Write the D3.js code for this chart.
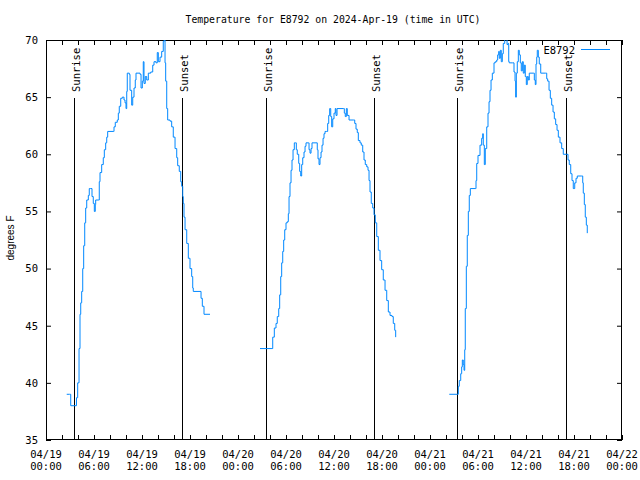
<!DOCTYPE html>
<html><head><meta charset="utf-8">
<script src="https://cdn.jsdelivr.net/npm/d3@7"></script>
<style>body{margin:0;background:#fff} svg{display:block}</style>
</head><body><svg id="c" width="640" height="480"></svg>
<script>
const title = "Temperature for E8792 on 2024-Apr-19 (time in UTC)";
const seriesName = "E8792";
const yLabel = "degrees F";
// hours since 2024-04-19 00:00 UTC
const day1Hours = [2.59,2.94,3.09,3.75,3.81,3.96,4.13,4.25,4.34,4.46,4.59,4.71,4.84,4.96,5.09,5.29,5.41,5.59,5.75,5.91,6.04,6.16,6.21,6.59,6.66,6.75,6.96,7.16,7.29,7.46,7.59,7.71,8.41,8.5,8.66,8.91,9.04,9.16,9.34,9.54,9.75,9.88,10.0,10.09,10.16,10.41,10.5,10.71,10.84,11.0,11.16,11.25,11.75,11.88,12.04,12.16,12.25,12.41,12.59,12.79,13.09,13.34,13.5,13.75,13.91,14.04,14.25,14.46,14.66,14.79,14.88,14.96,15.09,15.21,15.5,15.71,15.91,16.13,16.34,16.46,16.66,16.84,16.96,17.09,17.16,17.25,17.38,17.59,17.79,18.0,18.21,18.34,18.41,19.25,19.38,19.54,19.75,20.5];
const day1Temps = [39,39,38,38,38.7,40,43,46,47,48,50,52,54,55.3,56,56.4,57,57,56.3,55.7,55,55.6,56,56,57.6,58.4,59.1,59.7,60.4,61,61.5,62,62,62.4,62.8,63,63.6,64.2,64.9,65,64.75,64.5,64,65.5,67.1,67,65.6,64.3,65,65.8,66.5,67.1,67,65.8,66.4,68.1,66.2,66.8,66.5,67.1,67.2,67.8,68.1,68,68.9,68.1,68.5,69,69.9,70.4,68,66.4,64,63,62.9,62.4,61.5,60.5,59.7,59,58.5,57.6,57.2,56.3,55.7,54.5,53.4,52.2,50.9,50,49.3,48.3,48,48,47.4,46.7,46,46];
const day2Hours = [26.75,28.13,28.34,28.54,28.75,28.91,29.09,29.21,29.34,29.46,29.59,29.71,29.84,30.0,30.16,30.29,30.38,30.5,30.63,30.75,30.88,31.04,31.16,31.29,31.41,31.59,31.71,31.84,31.96,32.09,32.25,32.38,32.5,32.79,32.88,33.0,33.13,33.25,33.75,33.91,34.0,34.13,34.25,34.38,34.5,34.63,34.75,34.88,35.09,35.21,35.34,35.46,35.59,35.71,35.84,36.0,36.16,36.25,36.38,37.16,37.29,37.41,37.54,37.66,37.88,38.41,38.59,38.75,38.91,39.04,39.25,39.41,39.59,39.75,39.91,40.09,40.25,40.38,40.5,40.66,40.84,41.0,41.16,41.34,41.54,41.75,41.96,42.16,42.38,42.59,42.79,43.0,43.25,43.41,43.59,43.71];
const day2Temps = [43,43,44,44.8,45.2,45.8,46.5,47.7,49.3,50.5,51.5,52.5,53.4,54,54.1,54.8,56.3,57.5,58.6,59.5,60.4,61,61,60.4,60,59.2,58.5,58.1,59.1,59.7,60.2,60.7,61,61,60.4,60.1,60.5,61,61,60.4,59.6,59.1,59.7,60.2,60.8,61.4,61.8,62,62,62.7,63.4,64,63.3,62.4,63.1,63.6,64,63.4,64,64,63.6,63.3,64,63.4,63,63,62.7,62.2,61.9,61.2,61,60.8,60.2,59.5,59.1,58.9,58.6,57.7,56.7,55.7,55.3,54.7,54,52.8,51.6,50.7,49.9,49,48.1,47.2,46.2,45.9,45.8,45.2,44.6,44];
const day3Hours = [50.41,51.41,51.54,51.66,51.84,51.96,52.04,52.16,52.25,52.34,52.41,52.54,52.66,52.79,52.91,53.04,53.66,53.75,53.84,54.0,54.25,54.46,54.59,54.66,54.79,54.91,55.09,55.25,55.38,55.5,55.63,55.79,56.0,56.16,56.34,56.46,56.59,56.66,56.79,56.91,57.04,57.16,57.34,57.5,57.63,57.75,57.84,57.91,58.34,58.5,58.63,58.71,58.79,58.91,59.04,59.16,59.29,59.41,59.54,59.66,59.79,59.91,60.04,60.16,60.29,60.41,60.91,61.04,61.16,61.25,61.34,61.41,61.54,61.66,61.84,62.41,62.59,62.71,62.88,63.04,63.21,63.38,63.54,63.71,63.88,64.04,64.25,64.46,64.66,65.09,65.25,65.41,65.59,65.75,65.91,66.09,66.25,66.41,66.96,67.09,67.16,67.29,67.41,67.54,67.66];
const day3Temps = [39,39,39.7,40.2,40.8,41.4,42,41.6,41.1,42.9,46.5,50.2,52.9,55,56.4,57,57,57.7,59.2,59.9,60.8,61.4,61.8,60.8,59.1,60.5,62.4,63.6,64.6,65.6,66.5,67.1,68,68.1,68.25,68.7,69,68.4,69.1,68.1,68.8,69.7,70.3,70.3,69.6,69.7,68.1,68,68,67.2,66.4,65,67.1,68.1,69.1,68.7,68,67.3,68.1,67.1,67.8,66.8,66.1,66.8,66.5,67.1,67.1,66.5,66.1,67.9,68.5,69.1,68.5,67.9,67.1,67.1,66.6,66.4,65.6,64.9,64.3,63.7,63.1,62.6,62.1,61.5,61,60.5,60,60,59.5,59.1,58.3,57.7,57,57.5,57.9,58.1,58.1,57.5,56.6,55.6,54.5,53.8,53.1];
const sunriseHours = [3.54, 27.5, 51.41];
const sunsetHours = [17.06, 41.04, 65.04];
const yTicks = [35,40,45,50,55,60,65,70];
const yDomain = [35, 70];

const t0 = Date.UTC(2024,3,19);
const toDate = h => new Date(t0 + h*3600e3);
const L=46, R=622, T=40, B=440;
const svg = d3.select("#c");
const x = d3.scaleUtc().domain([new Date(t0), new Date(Date.UTC(2024,3,22))]).range([L,R]);
const y = d3.scaleLinear().domain(yDomain).range([B,T]);
const mono = "'DejaVu Sans Mono', monospace";
const color = "#0088ff";

svg.append("defs").append("clipPath").attr("id","clip").append("rect")
  .attr("x",L).attr("y",T).attr("width",R-L).attr("height",B-T);

// axes ticks (inward)
const tick2h = d3.utcHour.every(2).range(new Date(t0), new Date(Date.UTC(2024,3,22,0,1)));
const styleAxis = g => { g.select(".domain").remove(); g.selectAll("line").attr("stroke","#000"); g.selectAll("text").attr("font-family",mono).attr("font-size","10.5px").attr("fill","#000"); };
svg.append("g").attr("transform",`translate(0,${B})`).call(d3.axisBottom(x).tickValues(tick2h).tickSizeInner(-5).tickSizeOuter(0).tickFormat("")).call(styleAxis);
svg.append("g").attr("transform",`translate(0,${T})`).call(d3.axisTop(x).tickValues(tick2h).tickSizeInner(-5).tickSizeOuter(0).tickFormat("")).call(styleAxis);
svg.append("g").attr("transform",`translate(${L},0)`).call(d3.axisLeft(y).tickValues(yTicks).tickSizeInner(-5).tickSizeOuter(0).tickPadding(8).tickFormat(d3.format("d"))).call(styleAxis);
svg.append("g").attr("transform",`translate(${R},0)`).call(d3.axisRight(y).tickValues(yTicks).tickSizeInner(-5).tickSizeOuter(0).tickFormat("")).call(styleAxis);

// x labels
const tick6h = d3.utcHour.every(6).range(new Date(t0), new Date(Date.UTC(2024,3,22,0,1)));
const fmtD = d3.utcFormat("%m/%d"), fmtT = d3.utcFormat("%H:%M");
const xl = svg.append("g").selectAll("text").data(tick6h).join("text")
  .attr("x", d=>x(d)).attr("y", 457.5).attr("text-anchor","middle")
  .attr("font-family",mono).attr("font-size","10.5px").attr("fill","#000");
xl.append("tspan").attr("x",d=>x(d)).text(d=>fmtD(d));
xl.append("tspan").attr("x",d=>x(d)).attr("dy",12).text(d=>fmtT(d));

// frame
svg.append("rect").attr("x",L+0.5).attr("y",T+0.5).attr("width",R-L-1).attr("height",B-T-1)
  .attr("fill","none").attr("stroke","#000").attr("stroke-width",1);

// title & y label
svg.append("text").attr("x",333).attr("y",23.3).attr("text-anchor","middle")
  .attr("font-family",mono).attr("font-size","9.8px").attr("fill","#000").text(title);
svg.append("text").attr("transform","translate(14,238) rotate(-90)").attr("text-anchor","middle")
  .attr("font-family","'Liberation Sans', Arial, sans-serif").attr("font-size","10px").attr("fill","#000").text(yLabel);

// sunrise / sunset markers
const events = sunriseHours.map(h=>({h,label:"Sunrise"})).concat(sunsetHours.map(h=>({h,label:"Sunset"})));
const ev = svg.append("g");
ev.selectAll("line").data(events).join("line")
  .attr("x1",d=>Math.round(x(toDate(d.h)))+0.5).attr("x2",d=>Math.round(x(toDate(d.h)))+0.5)
  .attr("y1",98).attr("y2",B).attr("stroke","#000").attr("stroke-width",1);
ev.selectAll("text").data(events).join("text")
  .attr("transform",d=>`translate(${Math.round(x(toDate(d.h)))+6},92) rotate(-90)`)
  .attr("text-anchor","start").attr("font-family",mono).attr("font-size","10.5px").attr("fill","#000")
  .text(d=>d.label);

// data lines
const line = d3.line().x(d=>x(toDate(d[0]))).y(d=>y(d[1])).curve(d3.curveStepAfter);
const days = [[day1Hours,day1Temps],[day2Hours,day2Temps],[day3Hours,day3Temps]];
svg.append("g").attr("clip-path","url(#clip)").selectAll("path").data(days).join("path")
  .attr("d",([hs,ts])=>line(hs.map((h,i)=>[h,ts[i]])))
  .attr("fill","none").attr("stroke",color).attr("stroke-width",1);

// legend
svg.append("text").attr("x",575).attr("y",53.5).attr("text-anchor","end")
  .attr("font-family",mono).attr("font-size","10.5px").attr("fill","#000").text(seriesName);
svg.append("line").attr("x1",581).attr("x2",610).attr("y1",49.5).attr("y2",49.5).attr("stroke",color).attr("stroke-width",1);
</script></body></html>
